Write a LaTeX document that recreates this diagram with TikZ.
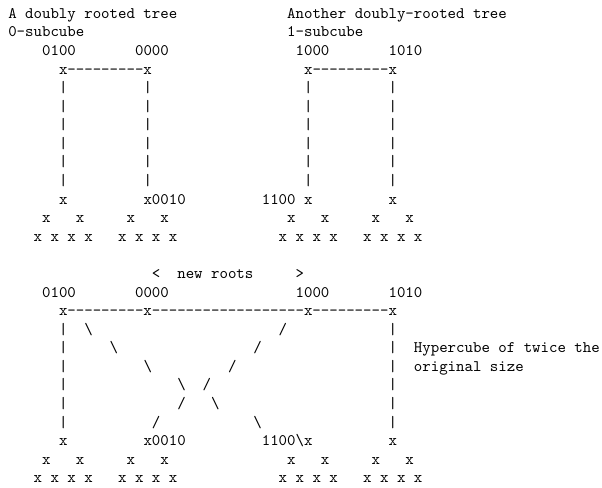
\documentclass[tikz,border=0pt]{standalone}
\usepackage{graphicx}
\tikzset{txt/.style={anchor=base west, inner sep=0pt, outer sep=0pt, font=\ttfamily}}
% place text #3 at column #1, row #2
\newcommand\tok[3]{\node[txt] (t#2-#1) at ({(8.3+#1*8.45)*1pt},{-(18.3+#2*18.58)*1pt}) {\scalebox{1.6095}{#3}};}
\newcommand\dashes[1]{\foreach\k in {1,...,#1}{-}}
\newcommand\bsl{\textbackslash}
\newcommand\bars[1]{\tok{6}{#1}{|}\tok{16}{#1}{|}\tok{35}{#1}{|}\tok{45}{#1}{|}}
\newcommand\lbars[1]{\tok{6}{#1}{|}\tok{45}{#1}{|}}
\newcommand\leafmid[1]{\tok{4}{#1}{x}\tok{8}{#1}{x}\tok{14}{#1}{x}\tok{18}{#1}{x}\tok{33}{#1}{x}\tok{37}{#1}{x}\tok{43}{#1}{x}\tok{47}{#1}{x}}
\newcommand\leafbot[1]{\tok{3}{#1}{x x x x}\tok{13}{#1}{x x x x}\tok{32}{#1}{x x x x}\tok{42}{#1}{x x x x}}
\begin{document}
\begin{tikzpicture}
\fill[white] (0,0) rectangle (602pt,-487pt);
\useasboundingbox (0,0) rectangle (602pt,-487pt);
% top section
\tok{0}{0}{A doubly rooted tree}
\tok{33}{0}{Another doubly-rooted tree}
\tok{0}{1}{0-subcube}
\tok{33}{1}{1-subcube}
\tok{4}{2}{0100}\tok{15}{2}{0000}\tok{34}{2}{1000}\tok{45}{2}{1010}
\tok{6}{3}{x\dashes{9}x}
\tok{35}{3}{x\dashes{9}x}
\bars{4}\bars{5}\bars{6}\bars{7}\bars{8}\bars{9}
\tok{6}{10}{x}\tok{16}{10}{x0010}\tok{30}{10}{1100 x}\tok{45}{10}{x}
\leafmid{11}
\leafbot{12}
% bottom section
\tok{17}{14}{<}\tok{20}{14}{new roots}\tok{34}{14}{>}
\tok{4}{15}{0100}\tok{15}{15}{0000}\tok{34}{15}{1000}\tok{45}{15}{1010}
\tok{6}{16}{x\dashes{9}x\dashes{18}x\dashes{9}x}
\lbars{17}\tok{9}{17}{\bsl}\tok{32}{17}{/}
\lbars{18}\tok{12}{18}{\bsl}\tok{29}{18}{/}\tok{48}{18}{Hypercube of twice the}
\lbars{19}\tok{16}{19}{\bsl}\tok{26}{19}{/}\tok{48}{19}{original size}
\lbars{20}\tok{20}{20}{\bsl}\tok{23}{20}{/}
\lbars{21}\tok{20}{21}{/}\tok{24}{21}{\bsl}
\lbars{22}\tok{17}{22}{/}\tok{29}{22}{\bsl}
\tok{6}{23}{x}\tok{16}{23}{x0010}\tok{30}{23}{1100\bsl x}\tok{45}{23}{x}
\leafmid{24}
\leafbot{25}
\end{tikzpicture}
\end{document}
